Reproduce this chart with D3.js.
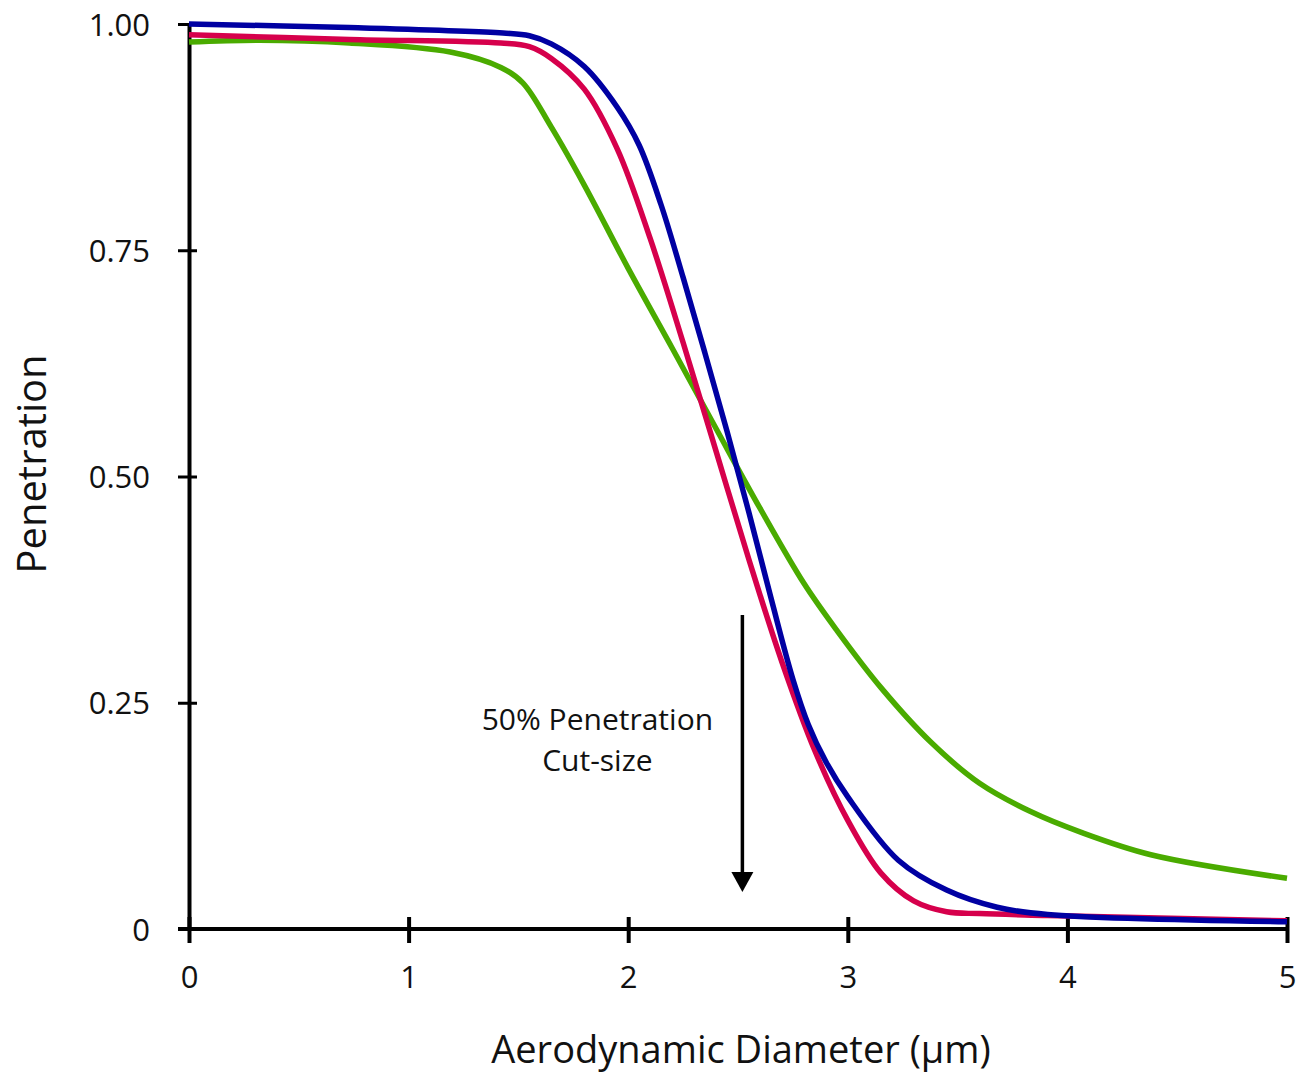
<!DOCTYPE html>
<html>
<head>
<meta charset="utf-8">
<script src="https://cdn.jsdelivr.net/npm/d3@7"></script>
<style>
  body { margin: 0; background: #fff; }
  text { font-family: "Open Sans", "Noto Sans", sans-serif; fill: #111; }
</style>
</head>
<body>
<svg id="chart" width="1300" height="1087"></svg>
<script>
// diameter (um) and penetration
var blueX  = [0, 0.73, 1.43, 1.55, 1.65, 1.80, 1.95, 2.05, 2.15, 2.25, 2.35, 2.45, 2.55, 2.65, 2.75, 2.82, 2.90, 3.00, 3.23, 3.45, 3.68, 3.91, 5]
var blueY  = [1.000, 0.996, 0.990, 0.987, 0.978, 0.953, 0.908, 0.866, 0.800, 0.720, 0.636, 0.550, 0.460, 0.366, 0.276, 0.226, 0.185, 0.146, 0.076, 0.043, 0.024, 0.016, 0.008]

var redX   = [0, 0.73, 1.42, 1.55, 1.65, 1.80, 1.95, 2.10, 2.25, 2.40, 2.55, 2.70, 2.85, 3.00, 3.15, 3.30, 3.45, 3.60, 3.91, 5]
var redY   = [0.988, 0.983, 0.979, 0.975, 0.962, 0.928, 0.862, 0.763, 0.648, 0.528, 0.408, 0.295, 0.197, 0.120, 0.062, 0.031, 0.019, 0.017, 0.015, 0.009]

var greenX = [0, 0.32, 0.73, 1.19, 1.42, 1.52, 1.65, 1.80, 2.00, 2.20, 2.40, 2.60, 2.80, 2.95, 3.15, 3.38, 3.60, 3.83, 4.06, 4.38, 5]
var greenY = [0.980, 0.982, 0.979, 0.969, 0.952, 0.935, 0.886, 0.822, 0.730, 0.642, 0.553, 0.465, 0.382, 0.330, 0.267, 0.206, 0.161, 0.130, 0.107, 0.082, 0.056]

var xTicks = [0, 1, 2, 3, 4, 5]
var yTicks = [0, 0.25, 0.5, 0.75, 1]
var yTickLabels = ["0", "0.25", "0.50", "0.75", "1.00"]

// arrow marking the 50% cut-size
var cutX = 2.52
var arrowFrom = 0.347, arrowTo = 0.041
var noteLines = ["50% Penetration", "Cut-size"]

var margin = {left: 189, top: 24},
    width = 1287 - 189,
    height = 929 - 24

var svg = d3.select("#chart")
var g = svg.append("g")
    .attr("transform", "translate(" + margin.left + "," + margin.top + ")")

var x = d3.scaleLinear().domain([0, 5]).range([0, width])
var y = d3.scaleLinear().domain([0, 1]).range([height, 0])

// y axis
var yAxis = g.append("g")
    .call(d3.axisLeft(y).tickValues(yTicks).tickSize(10).tickSizeOuter(0)
      .tickFormat(function(d, i) { return yTickLabels[i] }))
yAxis.select(".domain").attr("stroke", "#000").attr("stroke-width", 4)
yAxis.selectAll(".tick line").attr("stroke", "#000").attr("stroke-width", 3)
    .attr("x1", 8).attr("x2", -11)
yAxis.selectAll(".tick text")
    .attr("x", -39).attr("dy", "0.36em")
    .style("font-size", "31px").style("font-family", "'Open Sans', sans-serif")
    .attr("fill", "#111")

// x axis
var xAxis = g.append("g")
    .attr("transform", "translate(0," + height + ")")
    .call(d3.axisBottom(x).tickValues(xTicks).tickSize(12).tickSizeOuter(0)
      .tickFormat(d3.format("d")))
xAxis.select(".domain").attr("stroke", "#000").attr("stroke-width", 4)
    .attr("d", "M-11,0H" + width)
xAxis.selectAll(".tick line").attr("stroke", "#000").attr("stroke-width", 4)
    .attr("y1", -12).attr("y2", 14)
xAxis.selectAll(".tick text")
    .attr("y", 59).attr("dy", 0)
    .style("font-size", "31px").style("font-family", "'Open Sans', sans-serif")
    .attr("fill", "#111")

// curves
var line = d3.line()
    .x(function(d) { return x(d[0]) })
    .y(function(d) { return y(d[1]) })
    .curve(d3.curveCatmullRom.alpha(0.5))

var series = [
  {xs: greenX, ys: greenY, color: "#4aab00"},
  {xs: redX, ys: redY, color: "#d6004c"},
  {xs: blueX, ys: blueY, color: "#0000a2"}
]

series.forEach(function(s) {
  var pts = s.xs.map(function(v, i) { return [v, s.ys[i]] })
  g.append("path")
    .datum(pts)
    .attr("fill", "none")
    .attr("stroke", s.color)
    .attr("stroke-width", 5.5)
    .attr("stroke-linejoin", "round")
    .attr("d", line)
})

// arrow
g.append("line")
    .attr("x1", x(cutX)).attr("x2", x(cutX))
    .attr("y1", y(arrowFrom)).attr("y2", y(arrowTo) - 18)
    .attr("stroke", "#000").attr("stroke-width", 3.5)
g.append("path")
    .attr("d", "M" + (x(cutX) - 11) + "," + (y(arrowTo) - 20) +
               "L" + (x(cutX) + 11) + "," + (y(arrowTo) - 20) +
               "L" + x(cutX) + "," + y(arrowTo) + "Z")
    .attr("fill", "#000")

// two separate lines for the note
g.selectAll(".note")
    .data(noteLines)
    .enter().append("text")
    .attr("class", "note")
    .attr("text-anchor", "middle")
    .style("font-size", "30px")
    .attr("x", x(cutX) - 145)
    .attr("y", function(d, i) { return y(0.218) - 2 + i * 41 })
    .text(function(d) { return d })

// axis titles
svg.append("text")
    .attr("text-anchor", "middle")
    .attr("x", 741).attr("y", 1063)
    .style("font-size", "38px")
    .text("Aerodynamic Diameter (\u00b5m)")

svg.append("text")
    .attr("text-anchor", "middle")
    .attr("transform", "translate(46,464) rotate(-90)")
    .style("font-size", "40px")
    .text("Penetration")
</script>
</body>
</html>
